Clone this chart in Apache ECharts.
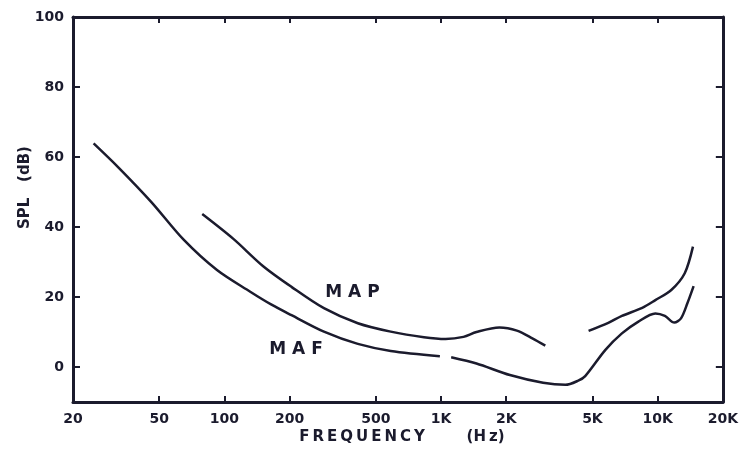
<!DOCTYPE html>
<html>
<head>
    <meta charset="UTF-8">
    <title>MAP / MAF</title>
    <script src="https://cdn.jsdelivr.net/npm/echarts@6/dist/echarts.min.js"></script>
</head>
<body style="margin:0;background:#fff;">
    <div id="main" style="width:741px;height:453px;"></div>
    <script>
        // frequency ticks (Hz) and labels
        var freqTicks = [20, 50, 100, 200, 500, 1000, 2000, 5000, 10000, 20000];
        var freqLabels = ['20', '50', '100', '200', '500', '1K', '2K', '5K', '10K', '20K'];
        var splTicks = [0, 20, 40, 60, 80, 100];

        // MAP curve, two pieces [Hz, dB]
        var mapLow = [[79, 43.7], [110, 36.6], [151, 28.8], [204, 22.9], [288, 16.8], [413, 12.5], [586, 10.1],
            [834, 8.5], [1050, 8], [1270, 8.6], [1458, 10], [1860, 11.3], [2240, 10.4], [2640, 8.2], [3030, 6.1]];
        var mapHigh = [[4800, 10.3], [5920, 12.6], [6840, 14.6], [8490, 16.9], [9760, 19.1], [11560, 22],
            [13340, 26.8], [14560, 34.4]];

        // MAF curve, two pieces [Hz, dB]
        var mafLow = [[24.9, 63.9], [32.2, 57.2], [45.9, 47.2], [65, 36.3], [92.4, 27.7], [131.6, 21.5],
            [165, 17.8], [204, 14.8], [288, 10.1], [413, 6.6], [586, 4.6], [988, 3.1]];
        var mafHigh = [[1114, 2.8], [1458, 1], [2080, -2.3], [2960, -4.5], [3750, -5.1], [4300, -3.9],
            [4630, -2.6], [5740, 4.9], [6840, 9.6], [8120, 12.9], [9760, 15.3], [10800, 14.6], [11940, 12.7],
            [12820, 13.9], [13720, 18.2], [14660, 23.1]];

        var ink = '#1b1b2d';
        var myChart = echarts.init(document.getElementById('main'));

        function curve(data, label) {
            var s = {
                type: 'line',
                data: data,
                smooth: 0.3,
                symbol: 'none',
                lineStyle: { color: ink, width: 2.5 },
                silent: true
            };
            if (label) {
                s.markPoint = {
                    symbol: 'circle',
                    symbolSize: 1,
                    itemStyle: { color: 'transparent' },
                    label: {
                        show: true,
                        position: 'inside',
                        formatter: label.text,
                        color: ink,
                        fontSize: 17,
                        fontWeight: 'bold',
                        fontFamily: 'DejaVu Sans'
                    },
                    data: [{ coord: label.coord }]
                };
            }
            return s;
        }

        var tickLabelStyle = {
            color: ink,
            fontSize: 14,
            fontWeight: 'bold',
            fontFamily: 'DejaVu Sans'
        };
        var nameStyle = { color: ink, fontSize: 15, fontWeight: 'bold', fontFamily: 'DejaVu Sans' };

        var option = {
            backgroundColor: '#fff',
            animation: false,
            grid: { left: 73, right: 13, top: 17, bottom: 51 },
            xAxis: [{
                type: 'log',
                logBase: 10,
                min: 20,
                max: 20000,
                name: 'F\u2009R\u2009E\u2009Q\u2009U\u2009E\u2009N\u2009C\u2009Y        (H\u2009z)',
                nameLocation: 'middle',
                nameGap: 28,
                nameMoveOverlap: false,
                nameTextStyle: Object.assign({ padding: [0, 0, 0, 8] }, nameStyle),
                axisLine: { onZero: false, lineStyle: { color: ink, width: 3 } },
                axisTick: { inside: true, length: 6, lineStyle: { color: ink, width: 2 }, customValues: freqTicks.slice(1, -1) },
                axisLabel: Object.assign({
                    margin: 10,
                    customValues: freqTicks,
                    formatter: function (v) {
                        var i = freqTicks.indexOf(Math.round(v));
                        return i >= 0 ? freqLabels[i] : '';
                    }
                }, tickLabelStyle),
                splitLine: { show: false }
            }, {
                type: 'log',
                logBase: 10,
                min: 20,
                max: 20000,
                position: 'top',
                axisLine: { onZero: false, lineStyle: { color: ink, width: 3 } },
                axisTick: { inside: true, length: 6, lineStyle: { color: ink, width: 2 }, customValues: freqTicks.slice(1, -1) },
                axisLabel: { show: false },
                splitLine: { show: false }
            }],
            yAxis: [{
                type: 'value',
                min: -10,
                max: 100,
                name: 'SPL   (dB)',
                nameLocation: 'middle',
                nameGap: 40,
                nameMoveOverlap: false,
                nameTextStyle: Object.assign({ padding: [0, 0, 0, 44] }, nameStyle),
                axisLine: { onZero: false, lineStyle: { color: ink, width: 3 } },
                axisTick: { inside: true, length: 7, lineStyle: { color: ink, width: 2 }, customValues: splTicks },
                axisLabel: Object.assign({ margin: 9, customValues: splTicks }, tickLabelStyle),
                splitLine: { show: false }
            }, {
                type: 'value',
                min: -10,
                max: 100,
                position: 'right',
                axisLine: { onZero: false, lineStyle: { color: ink, width: 3 } },
                axisTick: { inside: true, length: 7, lineStyle: { color: ink, width: 2 }, customValues: splTicks.slice(0, -1) },
                axisLabel: { show: false },
                splitLine: { show: false }
            }],
            series: [
                curve(mapLow, { text: 'M A P', coord: [390, 21.4] }),
                curve(mapHigh),
                curve(mafLow, { text: 'M A F', coord: [214, 4.9] }),
                curve(mafHigh)
            ]
        };

        myChart.setOption(option);
    </script>
</body>
</html>
